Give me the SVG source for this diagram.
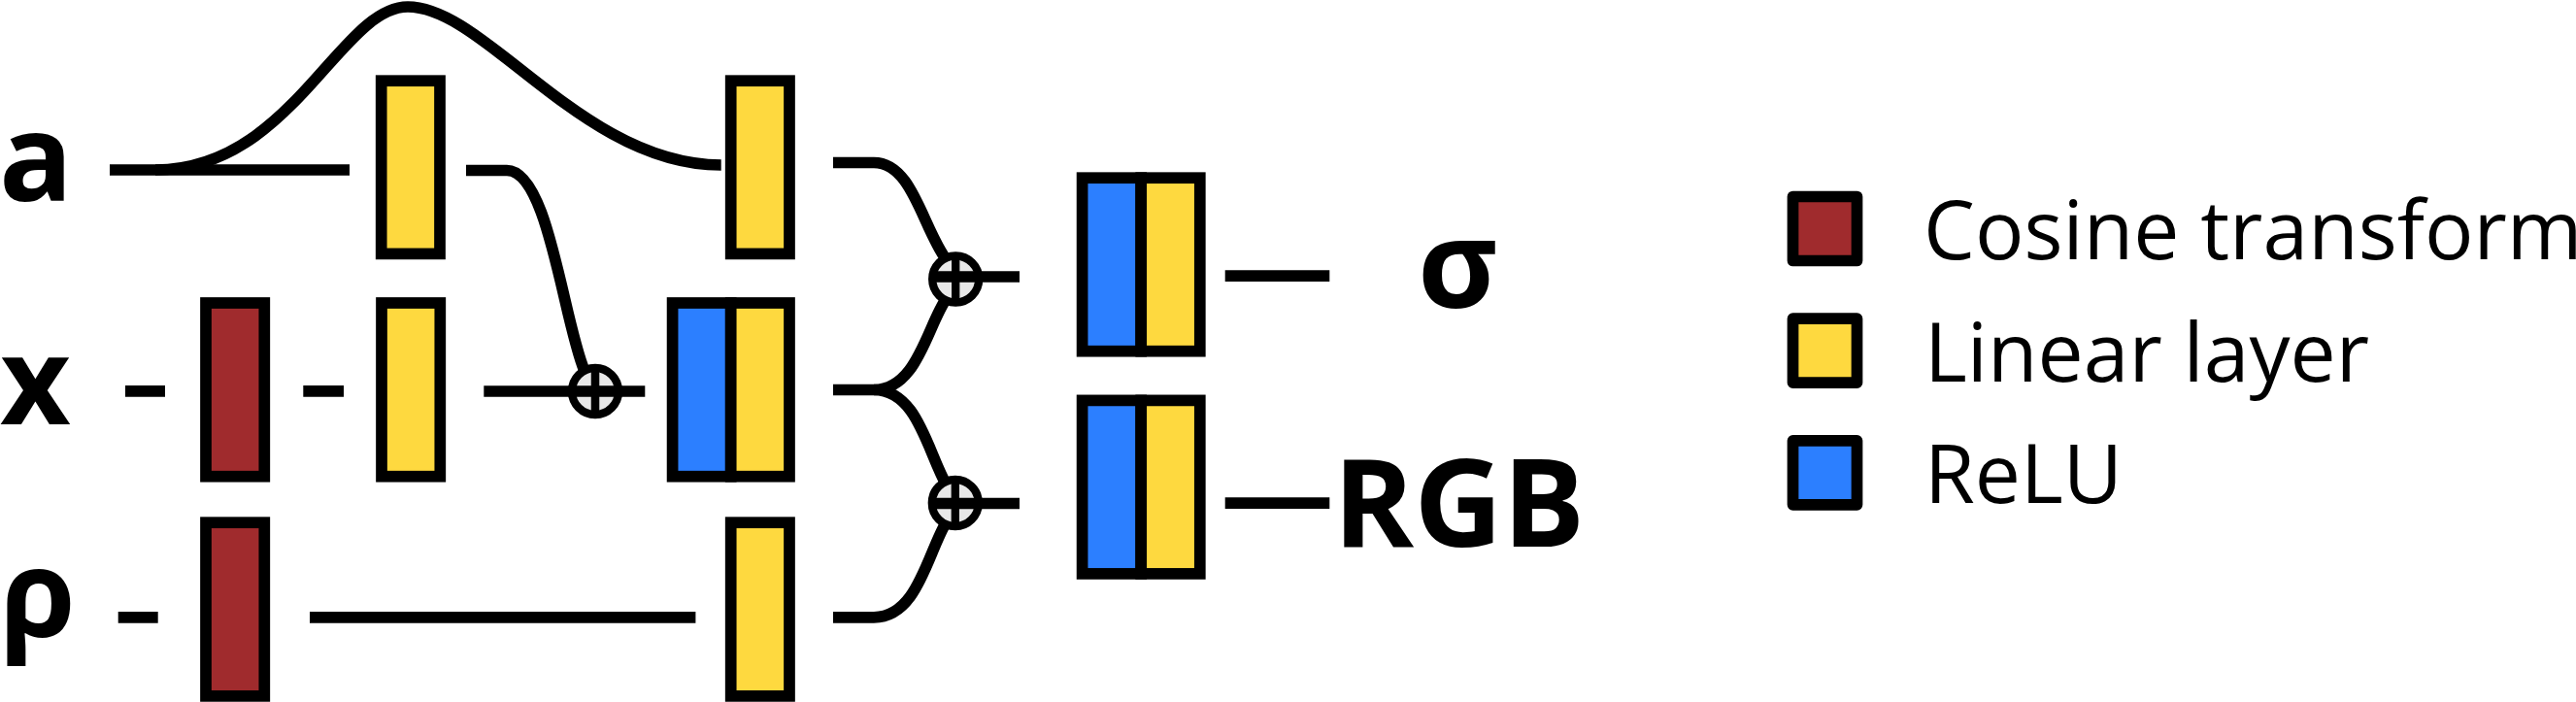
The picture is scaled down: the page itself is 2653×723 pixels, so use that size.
<svg xmlns="http://www.w3.org/2000/svg" width="2653" height="723" viewBox="0 0 2653 723">
<defs>
<style>
.conn{fill:none;stroke:#000;stroke-width:11.7;stroke-linecap:butt}
.box{stroke:#000;stroke-width:11.7}
.cos{fill:#a02b2d}
.lin{fill:#fed93f}
.relu{fill:#2c7fff}
.sumc{fill:#e8e8e8;stroke:#000;stroke-width:8.3}
.cross{stroke:#000;fill:none}
.lbl{font-family:"Open Sans","Noto Sans","DejaVu Sans",sans-serif;font-weight:700;font-size:126px;fill:#000}
.leg{font-family:"Open Sans","Noto Sans","DejaVu Sans",sans-serif;font-weight:400;font-size:84px;fill:#000}
.legbox{stroke:#000;stroke-width:11.7;stroke-linejoin:round}
</style>
</defs>
<rect width="2653" height="723" fill="#fff"/>
<g id="connectors">
<path class="conn" d="M113 175H360"/>
<path class="conn" d="M160 175C300 175 350 7 420 7C500 7 600 170 742.7 170"/>
<path class="conn" d="M480 175.5H522C565 175.5 580 330 602 382"/>
<path class="conn" d="M858 167.5H900C940 167.5 950 235 975 268"/>
<path class="conn" d="M129 402.8H170"/>
<path class="conn" d="M312.3 402.8H354"/>
<path class="conn" d="M498.3 403H664.3"/>
<path class="conn" d="M858 401.5H900"/>
<path class="conn" d="M900 401.5C945 401.5 955 335 975 307"/>
<path class="conn" d="M900 401.5C945 401.5 955 465 975 500"/>
<path class="conn" d="M121.7 635.8H162.7"/>
<path class="conn" d="M319 635.8H716.4"/>
<path class="conn" d="M858 635.8H900C945 635.8 955 570 975 537"/>
<path class="conn" d="M1005 285H1050"/>
<path class="conn" d="M1005 518.5H1050"/>
<path class="conn" d="M1261.7 284.2H1369.3"/>
<path class="conn" d="M1261.7 518.2H1369.3"/>
</g>
<g id="label-a"><text class="lbl" x="-1" y="207">a</text></g>
<g id="label-x"><text class="lbl" x="0" y="437">x</text></g>
<g id="label-rho"><text class="lbl" x="0" y="656">ρ</text></g>
<g id="cos-x"><rect class="box cos" x="212" y="312" width="60.3" height="178.7"/></g>
<g id="cos-rho"><rect class="box cos" x="212" y="538.2" width="60.3" height="178.7"/></g>
<g id="lin-a1"><rect class="box lin" x="392.7" y="83.2" width="60.3" height="178.2"/></g>
<g id="lin-x1"><rect class="box lin" x="393" y="312" width="60.3" height="178.7"/></g>
<g id="lin-a2"><rect class="box lin" x="752.7" y="83.2" width="60.3" height="178.2"/></g>
<g id="relu-lin-x">
<rect class="box relu" x="692.6" y="312" width="60.1" height="178.7"/>
<rect class="box lin" x="752.7" y="312" width="60.3" height="178.7"/>
</g>
<g id="lin-rho"><rect class="box lin" x="752.7" y="538.2" width="60.3" height="178.7"/></g>
<g id="sum-x">
<circle class="sumc" cx="613" cy="403" r="24"/>
<line class="cross" x1="590" y1="403" x2="636" y2="403" stroke-width="11.7"/>
<line class="cross" x1="613" y1="380" x2="613" y2="426" stroke-width="8.5"/>
</g>
<g id="sum-sigma">
<circle class="sumc" cx="984.2" cy="287.5" r="24"/>
<line class="cross" x1="962" y1="285" x2="1006" y2="285" stroke-width="11.7"/>
<line class="cross" x1="984.2" y1="264.5" x2="984.2" y2="310.5" stroke-width="8.3"/>
</g>
<g id="sum-rgb">
<circle class="sumc" cx="983.8" cy="518" r="24"/>
<line class="cross" x1="962" y1="518.5" x2="1006" y2="518.5" stroke-width="11.7"/>
<line class="cross" x1="983.8" y1="495" x2="983.8" y2="541" stroke-width="8.3"/>
</g>
<g id="relu-lin-sigma">
<rect class="box relu" x="1114.6" y="183.2" width="60.6" height="178.5"/>
<rect class="box lin" x="1175.2" y="183.2" width="60.6" height="178.5"/>
</g>
<g id="relu-lin-rgb">
<rect class="box relu" x="1114.6" y="412.4" width="60.6" height="178.5"/>
<rect class="box lin" x="1175.2" y="412.4" width="60.6" height="178.5"/>
</g>
<g id="out-sigma"><text class="lbl" x="1460" y="317">σ</text></g>
<g id="out-rgb"><text class="lbl" x="1373" y="563.3">RGB</text></g>
<g id="legend">
<g id="legend-cos">
<rect class="legbox cos" x="1846.5" y="202.5" width="66" height="66"/>
<text class="leg" x="1981" y="267.3">Cosine transform</text>
</g>
<g id="legend-lin">
<rect class="legbox lin" x="1846.5" y="328.2" width="66" height="66"/>
<text class="leg" x="1982" y="393.3">Linear layer</text>
</g>
<g id="legend-relu">
<rect class="legbox relu" x="1846.5" y="453.8" width="66" height="66"/>
<text class="leg" x="1982" y="518.3">ReLU</text>
</g>
</g>
</svg>
